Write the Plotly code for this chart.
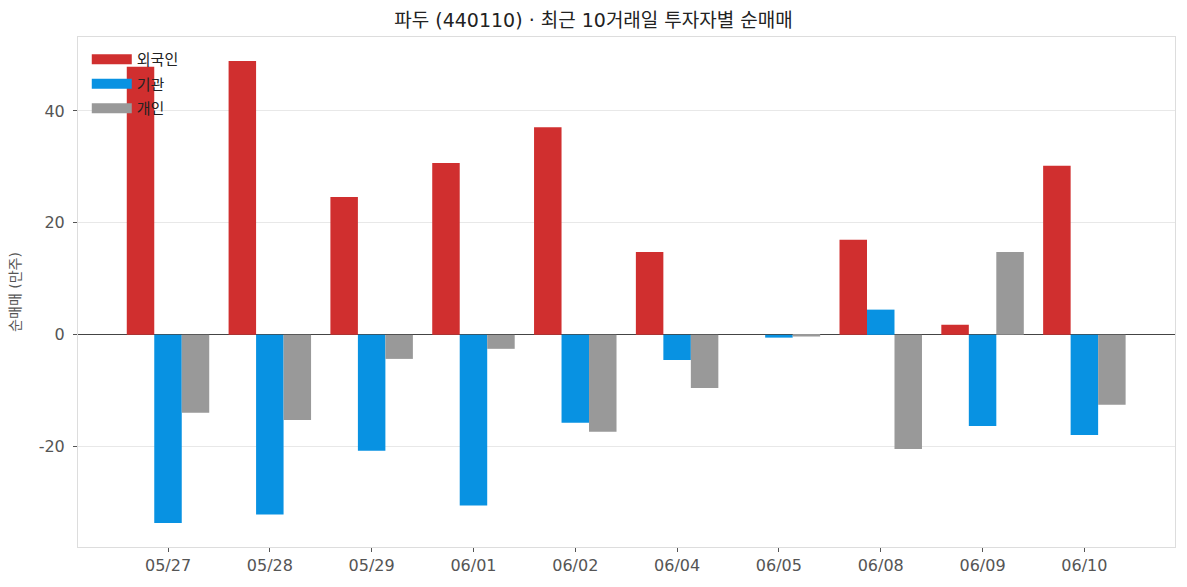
import plotly.graph_objects as go

dates = ["05/27", "05/28", "05/29", "06/01", "06/02", "06/04", "06/05", "06/08", "06/09", "06/10"]
foreign = [47.9, 48.9, 24.6, 30.7, 37.1, 14.8, 0.0, 17.0, 1.8, 30.2]
institution = [-33.6, -32.1, -20.7, -30.5, -15.7, -4.5, -0.5, 4.5, -16.3, -17.9]
individual = [-13.9, -15.2, -4.3, -2.5, -17.3, -9.5, -0.3, -20.4, 14.8, -12.5]

names = ["외국인", "기관", "개인"]
colors = ["#d02f2f", "#0892e2", "#999999"]
series = [foreign, institution, individual]

y_tickvals = [-20, 0, 20, 40]
y_ticktext = ["-20", "0", "20", "40"]

FONT = "DejaVu Sans, Noto Sans CJK KR"

fig = go.Figure()
for name, col, vals in zip(names, colors, series):
    fig.add_trace(go.Bar(x=dates, y=vals, name=name, marker=dict(color=col, line=dict(width=0)),
                         showlegend=False))
# legend entries drawn as thick line swatches
for i, (name, col) in enumerate(zip(names, colors)):
    fig.add_trace(go.Scatter(x=[None], y=[None], mode="lines", name=name, legendgroup=f"g{i}",
                             line=dict(color=col, width=12)))

fig.update_layout(
    width=1187, height=587,
    margin=dict(l=78, r=12, t=37, b=40),
    paper_bgcolor="white", plot_bgcolor="white",
    barmode="group", bargap=0.19, bargroupgap=0,
    font=dict(family=FONT, color="#555555", size=16),
    title=dict(text="파두 (440110) · 최근 10거래일 투자자별 순매매", x=0.5, xanchor="center",
               y=0.965, yanchor="middle", font=dict(family=FONT, size=19, color="#222222")),
    legend=dict(x=0.008, y=0.988, xanchor="left", yanchor="top", bgcolor="rgba(0,0,0,0)",
                font=dict(family=FONT, size=15, color="#222222"), itemwidth=40,
                tracegroupgap=2),
    xaxis=dict(range=[-0.884, 9.89], showgrid=False, ticks="outside", ticklen=4, tickcolor="#555",
               showline=True, linecolor="#dddddd", mirror=True,
               tickfont=dict(family=FONT, size=16, color="#555555")),
    yaxis=dict(range=[-37.9, 53.2], tickvals=y_tickvals, ticktext=y_ticktext, ticks="outside", ticklen=4,
               tickcolor="#555", showgrid=True, gridcolor="#e8e8e8", gridwidth=1,
               zeroline=True, zerolinecolor="#444444", zerolinewidth=1,
               showline=True, linecolor="#dddddd", mirror=True, ticklabelstandoff=5,
               title=dict(text="순매매 (만주)", font=dict(family=FONT, size=14, color="#555555"), standoff=14),
               tickfont=dict(family=FONT, size=16, color="#555555")),
)

fig.write_html("out.html")
